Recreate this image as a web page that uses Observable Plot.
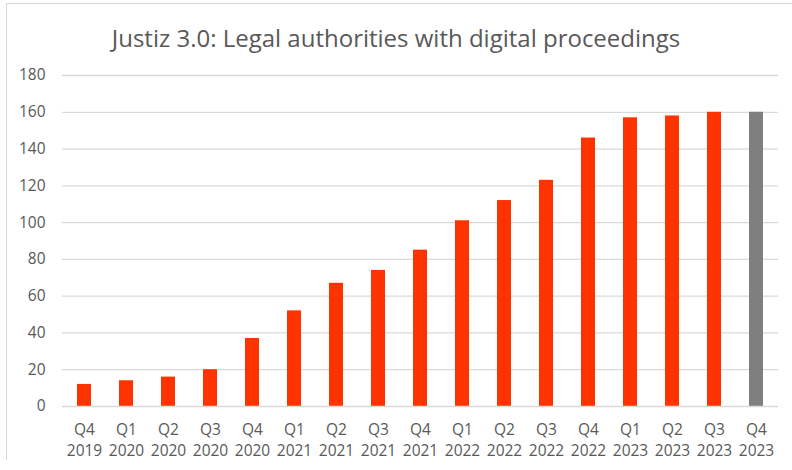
<!DOCTYPE html>
<html>
<head>
<meta charset="utf-8">
<script src="https://cdn.jsdelivr.net/npm/d3@7"></script>
<script src="https://cdn.jsdelivr.net/npm/@observablehq/plot@0.6"></script>
<style>
  body { margin: 0; background: #fff; font-family: "Open Sans", sans-serif; }
  #wrap { position: relative; width: 792px; height: 470px; overflow: hidden; }
  #frame { position: absolute; left: 6px; top: 3px; width: 800px; height: 456px;
           border-left: 1.5px solid #d9d9d9; border-top: 1.5px solid #d9d9d9; }
  #title { position: absolute; top: 0; left: 0; width: 792px; height: 60px; line-height: 75px;
           text-align: center; font-size: 24px; color: #595959; }
  #chart { position: absolute; top: 60px; left: 0; }
  #chart svg text { font-size: 15.5px; }
</style>
</head>
<body>
<div id="wrap">
  <div id="frame"></div>
  <div id="title">Justiz 3.0: Legal authorities with digital proceedings</div>
  <div id="chart"></div>
</div>
<script>
const quarters = ["Q4\n2019","Q1\n2020","Q2\n2020","Q3\n2020","Q4\n2020","Q1\n2021","Q2\n2021","Q3\n2021","Q4\n2021","Q1\n2022","Q2\n2022","Q3\n2022","Q4\n2022","Q1\n2023","Q2\n2023","Q3\n2023","Q4\n2023"];
const values = [12, 14, 16, 20, 37, 52, 67, 74, 85, 101, 112, 123, 146, 157, 158, 160, 160];
const status = ["actual","actual","actual","actual","actual","actual","actual","actual","actual","actual","actual","actual","actual","actual","actual","actual","planned"];
const yTicks = [0, 20, 40, 60, 80, 100, 120, 140, 160, 180];

const data = quarters.map((q, i) => ({quarter: q, value: values[i], status: status[i]}));

const chart = Plot.plot({
  width: 792,
  height: 410,
  marginTop: 15,
  marginBottom: 64,
  marginLeft: 62,
  marginRight: 14,
  style: {fontFamily: "Open Sans, sans-serif", fontSize: "15.5px", color: "#595959", background: "transparent"},
  x: {domain: quarters, paddingInner: 0.667, paddingOuter: 0.333, label: null},
  y: {domain: [0, 180], ticks: yTicks, label: null},
  color: {domain: ["actual", "planned"], range: ["#ff3300", "#7f7f7f"]},
  marks: [
    Plot.gridY(yTicks.filter(d => d > 0), {stroke: "#d9d9d9", strokeOpacity: 1, strokeWidth: 1.3}),
    Plot.axisY({ticks: yTicks, tickSize: 0, tickPadding: 17, fill: "#595959", fontSize: 15.5, label: null}),
    Plot.barY(data, {x: "quarter", y: "value", fill: "status"}),
    Plot.ruleY([0], {stroke: "#d9d9d9", strokeWidth: 1.5}),
    Plot.axisX({tickSize: 0, tickPadding: 13, lineHeight: 1.38, fill: "#595959", fontSize: 15.5, label: null})
  ]
});
document.getElementById("chart").appendChild(chart);
</script>
</body>
</html>
